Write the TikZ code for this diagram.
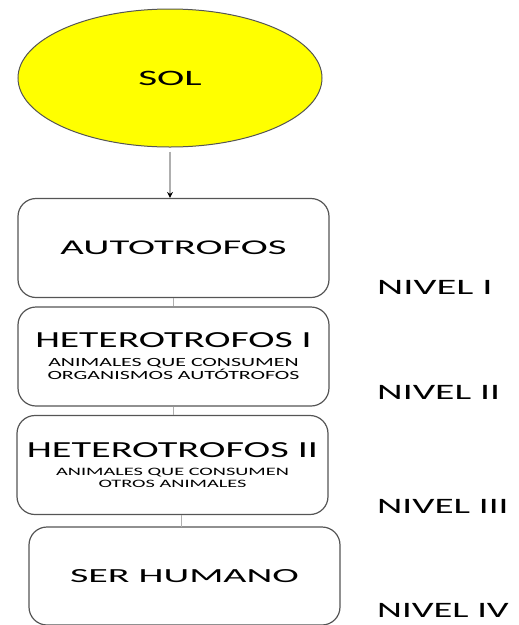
\documentclass[tikz,border=0pt]{standalone}
\usepackage{fontspec}
\setmainfont{Carlito}
\usepackage{tikz}
\usetikzlibrary{shapes,arrows.meta,positioning,calc}
\definecolor{sunyellow}{RGB}{255,255,0}
\definecolor{edgegray}{RGB}{85,85,85}
\definecolor{linkgray}{RGB}{175,175,175}
\newcommand{\wide}[2][1.75]{\scalebox{#1}[1]{#2}}

\begin{document}
\begin{tikzpicture}[x=1pt,y=-1pt,
        level/.style={draw=edgegray, line width=1.2pt, rounded corners=18pt,
            minimum width=311pt, minimum height=99pt, inner sep=0pt, align=center},
        lbl/.style={inner sep=0pt, anchor=west},
        link/.style={linkgray, line width=1.5pt}]
        \useasboundingbox (0,0) rectangle (519,625);

        % Sun
        \node[ellipse, draw=edgegray, fill=sunyellow, line width=1pt,
            minimum width=304pt, minimum height=138pt, inner sep=0pt] (sol) at (170,78)
            {\fontsize{22}{24}\selectfont\wide[1.87]{SOL}};

        % Levels
        \node[level] (autotrofos) at (173.5,248) {\fontsize{21}{24}\selectfont\wide[1.94]{AUTOTROFOS}};
        \node[level] (hetuno) at (173.5,356.5) {\fontsize{23}{23}\selectfont\wide[1.72]{HETEROTROFOS I}\\[7pt]
            \fontsize{12.5}{11.5}\selectfont\wide{ANIMALES QUE CONSUMEN}\\
            \fontsize{12.5}{11.5}\selectfont\wide{ORGANISMOS AUTÓTROFOS}};
        \node[level] (hetdos) at (172.5,465) {\fontsize{23}{23}\selectfont\wide{HETEROTROFOS II}\\[6pt]
            \fontsize{11.3}{11.5}\selectfont\wide[1.8]{ANIMALES QUE CONSUMEN}\\
            \fontsize{11.3}{11.5}\selectfont\wide[1.8]{OTROS ANIMALES}};
        \node[level, minimum height=98pt] (humano) at (184.5,576) {\fontsize{20}{24}\selectfont\wide[2.0]{SER HUMANO}};

        % Level names
        \node[lbl] (niveluno) at (377,287) {\fontsize{22}{24}\selectfont\wide[1.84]{NIVEL I}};
        \node[lbl] (niveldos) at (377,392) {\fontsize{22}{24}\selectfont\wide[1.8]{NIVEL II}};
        \node[lbl] (niveltres) at (377,506) {\fontsize{22}{24}\selectfont\wide[1.78]{NIVEL III}};
        \node[lbl] (nivelcuatro) at (377,610) {\fontsize{22}{24}\selectfont\wide[1.75]{NIVEL IV}};

        % Links
        \draw[link, -{Stealth[black, length=6pt, width=6pt]}, shorten <=4pt] (sol.south) -- (sol.south |- autotrofos.north);
        \draw[link] (autotrofos.south) -- (hetuno.north);
        \draw[link] (hetuno.south) -- (hetuno.south |- hetdos.north);
        \draw[link] ($(hetdos.south)+(9,0)$) -- ($(hetdos.south)+(9,12)$);
    \end{tikzpicture}
\end{document}
